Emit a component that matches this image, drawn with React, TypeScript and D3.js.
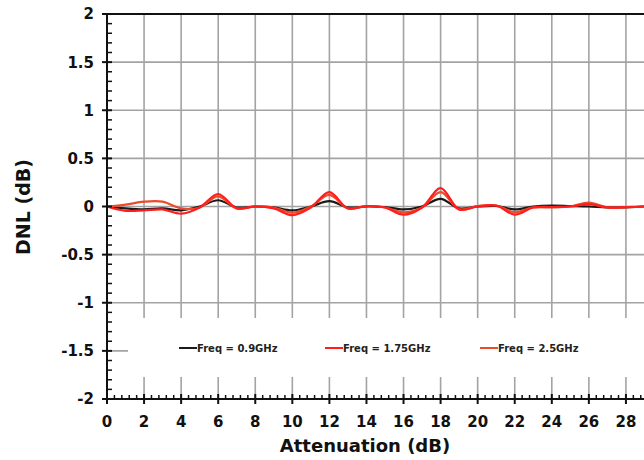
import React from "react";
import * as d3 from "d3";

const attenuation = d3.range(0, 31);
const freq09 = [0, -0.02, -0.03, -0.02, -0.04, 0.0, 0.065, -0.01, 0, -0.01, -0.04, 0.0, 0.055, -0.01, 0, -0.005, -0.03, 0.0, 0.08, -0.02, 0.0, 0.005, -0.03, 0.0, 0.01, 0.005, 0.0, -0.01, -0.01, 0, 0];
const freq175 = [0, -0.045, -0.04, -0.03, -0.075, -0.01, 0.13, -0.02, 0, -0.02, -0.09, -0.01, 0.15, -0.02, 0.005, -0.01, -0.085, -0.01, 0.19, -0.03, 0.0, 0.01, -0.085, -0.01, -0.005, 0.0, 0.025, -0.01, -0.005, 0, 0];
const freq25 = [0, 0.02, 0.05, 0.05, -0.02, -0.01, 0.105, -0.02, 0, -0.01, -0.065, 0, 0.12, -0.02, 0.005, -0.01, -0.06, -0.01, 0.15, -0.03, 0.005, 0.01, -0.06, -0.01, -0.01, 0.0, 0.04, -0.01, -0.01, 0, 0];
const seriesNames = ["Freq = 0.9GHz", "Freq = 1.75GHz", "Freq = 2.5GHz"];
const seriesColors = ["#1a1a1a", "#ff1e1e", "#ec4a2a"];
const xTicks = d3.range(0, 30, 2);
const yTicks = [2, 1.5, 1, 0.5, 0, -0.5, -1, -1.5, -2];

const W = 644, H = 460;
const FONT = "'DejaVu Sans', Verdana, sans-serif";

export default function App() {
  const x = d3.scaleLinear().domain([0, 30]).range([107, 663]);
  const y = d3.scaleLinear().domain([-2, 2]).range([399, 14]);
  const line = d3.line<number>()
    .x((_, i) => x(attenuation[i]))
    .y((d) => y(d))
    .curve(d3.curveCatmullRom.alpha(0.5));
  const series = [freq09, freq175, freq25];
  const legendX = [179, 325, 480];
  const yMinor = d3.range(-2, 2.0001, 0.1).filter((v) => Math.abs(v * 2 - Math.round(v * 2)) > 1e-6);
  const xMinor = d3.range(0, 30.001, 0.4).filter((v) => Math.abs(v / 2 - Math.round(v / 2)) > 1e-6);
  return (
    <svg width={W} height={H} style={{ position: "absolute", left: 0, top: 0, background: "#fff" }}>
      <rect width={W} height={H} fill="#fff" />
      {/* grid */}
      {xTicks.concat([30]).filter((t) => t > 0).map((t) => (
        <line key={"gx" + t} x1={x(t)} x2={x(t)} y1={y(2)} y2={y(-2)} stroke="#a3a3a3" strokeWidth={1.6} />
      ))}
      {yTicks.filter((t) => t > -2 && t < 2).map((t) => (
        <line key={"gy" + t} x1={x(0)} x2={W} y1={y(t)} y2={y(t)} stroke="#a3a3a3" strokeWidth={1.6} />
      ))}
      {/* legend box */}
      <rect x={128} y={318} width={W - 128} height={59} fill="#fff" />
      {/* series */}
      {[0, 2, 1].map((i) => (
        <path key={"s" + i} d={line(series[i]) || ""} fill="none" stroke={seriesColors[i]} strokeWidth={2.2} />
      ))}
      {/* legend */}
      {seriesNames.map((n, i) => (
        <g key={"lg" + i}>
          <line x1={legendX[i]} x2={legendX[i] + 18} y1={348} y2={348} stroke={seriesColors[i]} strokeWidth={2} />
          <text x={legendX[i] + 18} y={351.5} fontFamily={FONT} fontWeight="bold" fontSize={10} fill="#222">{n}</text>
        </g>
      ))}
      {/* top border */}
      <line x1={x(0)} x2={W} y1={y(2)} y2={y(2)} stroke="#111" strokeWidth={2} />
      {/* axes */}
      <line x1={x(0)} x2={x(0)} y1={y(2)} y2={y(-2)} stroke="#111" strokeWidth={2} />
      <line x1={x(0)} x2={W} y1={y(-2)} y2={y(-2)} stroke="#111" strokeWidth={2} />
      {yMinor.map((t, i) => (
        <line key={"ym" + i} x1={x(0)} x2={x(0) + 5} y1={y(t)} y2={y(t)} stroke="#111" strokeWidth={1.5} />
      ))}
      {yTicks.map((t) => (
        <line key={"yM" + t} x1={x(0) - 5} x2={x(0) + 5} y1={y(t)} y2={y(t)} stroke="#111" strokeWidth={2} />
      ))}
      {xMinor.map((t, i) => (
        <line key={"xm" + i} x1={x(t)} x2={x(t)} y1={y(-2)} y2={y(-2) - 4} stroke="#111" strokeWidth={1.5} />
      ))}
      {xTicks.concat([30]).map((t) => (
        <line key={"xM" + t} x1={x(t)} x2={x(t)} y1={y(-2) - 5} y2={y(-2) + 5} stroke="#111" strokeWidth={2} />
      ))}
      {/* tick labels */}
      {yTicks.map((t) => (
        <text key={"yl" + t} x={94} y={y(t)} dy="0.36em" textAnchor="end" fontFamily={FONT} fontWeight="bold" fontSize={15} fill="#111">{String(t)}</text>
      ))}
      {xTicks.map((t) => (
        <text key={"xl" + t} x={x(t)} y={427} textAnchor="middle" fontFamily={FONT} fontWeight="bold" fontSize={15} fill="#111">{String(t)}</text>
      ))}
      <text x={365} y={452} textAnchor="middle" fontFamily={FONT} fontWeight="bold" fontSize={18} fill="#111">Attenuation (dB)</text>
      <text transform={`translate(30,207) rotate(-90)`} textAnchor="middle" fontFamily={FONT} fontWeight="bold" fontSize={19} fill="#111">DNL (dB)</text>
    </svg>
  );
}
